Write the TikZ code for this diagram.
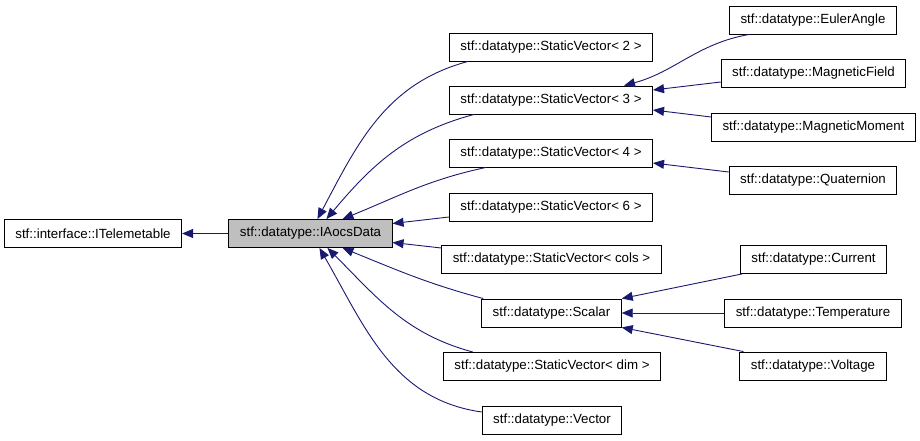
\documentclass[tikz,border=0pt]{standalone}
\usepackage{fontspec}
\setmainfont{Liberation Sans}
\usetikzlibrary{arrows.meta}
\definecolor{edgeblue}{HTML}{191970}
\definecolor{boxgray}{HTML}{BFBFBF}
\begin{document}
\begin{tikzpicture}[x=1pt,y=1pt,
  cls/.style={draw=black, line width=0.9pt, fill=white, minimum height=28pt, inner xsep=11pt, inner ysep=0pt,
    font=\fontsize{13.3}{16}\selectfont, anchor=center},
  cur/.style={cls, fill=boxgray},
  arr/.style={draw=edgeblue, line width=0.9pt, -{Triangle[length=11pt,width=9pt]}}]
\useasboundingbox (0,0) rectangle (920,-440);
% nodes
\node[cls] (tel) at (93,-233.5) {stf::interface::ITelemetable};
\node[cur] (ia) at (310.5,-233.5) {stf::datatype::IAocsData};
\node[cls] (sv2) at (551,-47) {stf::datatype::StaticVector< 2 >};
\node[cls] (sv3) at (551,-100) {stf::datatype::StaticVector< 3 >};
\node[cls] (sv4) at (551,-153) {stf::datatype::StaticVector< 4 >};
\node[cls] (sv6) at (551,-207) {stf::datatype::StaticVector< 6 >};
\node[cls] (cols) at (551.5,-259) {stf::datatype::StaticVector< cols >};
\node[cls] (scalar) at (551.5,-313) {stf::datatype::Scalar};
\node[cls] (dim) at (552,-366.5) {stf::datatype::StaticVector< dim >};
\node[cls] (vec) at (552,-420) {stf::datatype::Vector};
\node[cls] (euler) at (813,-20) {stf::datatype::EulerAngle};
\node[cls] (mfield) at (813.5,-73) {stf::datatype::MagneticField};
\node[cls] (mmoment) at (813.5,-127) {stf::datatype::MagneticMoment};
\node[cls] (quat) at (813,-180) {stf::datatype::Quaternion};
\node[cls] (current) at (813.5,-259.5) {stf::datatype::Current};
\node[cls] (temp) at (813,-313) {stf::datatype::Temperature};
\node[cls] (volt) at (813,-366) {stf::datatype::Voltage};
% edges
\draw[arr] (ia.west) -- (tel.east);
\draw[arr] ([xshift=19pt]sv2.south west) to[out=195,in=62] ([xshift=89pt]ia.north west);
\draw[arr] ([xshift=25pt]sv3.south west) to[out=195,in=50] ([xshift=98pt]ia.north west);
\draw[arr] ([xshift=37pt]sv4.south west) to[out=192,in=22] ([xshift=114pt]ia.north west);
\draw[arr] ([yshift=-10pt]sv6.west) -- ([yshift=10pt]ia.east);
\draw[arr] ([yshift=11pt]cols.west) -- ([yshift=-9pt]ia.east);
\draw[arr] ([xshift=2pt]scalar.north west) to[out=165,in=-22] ([xshift=114pt]ia.south west);
\draw[arr] ([xshift=30pt]dim.north west) to[out=165,in=-45] ([xshift=99pt]ia.south west);
\draw[arr] ([yshift=8pt]vec.west) to[out=172,in=-60] ([xshift=91pt]ia.south west);
\draw[arr] ([xshift=20pt]euler.south west) to[out=190,in=15] ([xshift=-29pt]sv3.north east);
\draw[arr] ([yshift=-9pt]mfield.west) -- ([yshift=10pt]sv3.east);
\draw[arr] ([yshift=10pt]mmoment.west) -- ([yshift=-10pt]sv3.east);
\draw[arr] ([yshift=8pt]quat.west) -- ([yshift=-10pt]sv4.east);
\draw[arr] ([xshift=2pt]current.south west) -- (scalar.north east);
\draw[arr] (temp.west) -- (scalar.east);
\draw[arr] ([xshift=4pt]volt.north west) -- (scalar.south east);
\end{tikzpicture}
\end{document}
